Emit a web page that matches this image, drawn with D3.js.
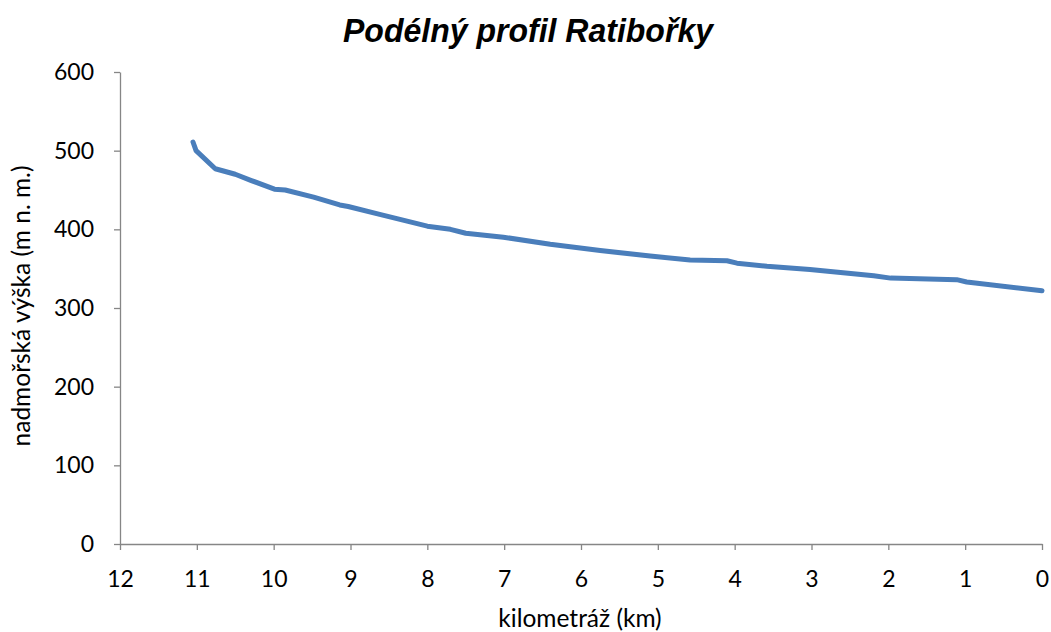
<!DOCTYPE html>
<html>
<head>
<meta charset="utf-8">
<script src="https://cdn.jsdelivr.net/npm/d3@7"></script>
<style>
  body { margin: 0; background: #fff; }
  text { font-family: Lato, "Open Sans", sans-serif; }
</style>
</head>
<body>
<svg width="1051" height="632"></svg>
<script>
// kilometráž (km) and nadmořská výška (m n. m.)
var km = [11.05, 11.01, 10.76, 10.50, 10.29, 9.99, 9.85, 9.48, 9.14, 9.03, 8.62, 8.00, 7.70, 7.50, 7.01, 6.40, 5.75, 5.10, 4.58, 4.10, 3.97, 3.58, 3.02, 2.19, 1.97, 1.11, 0.98, 0.00];
var vyska = [511, 500, 477, 470, 462, 451, 450, 441, 431, 429, 419, 404, 400, 395, 390, 381, 373, 366, 361, 360, 357, 353, 349, 341, 338, 336, 333, 322];
var xTicks = [12, 11, 10, 9, 8, 7, 6, 5, 4, 3, 2, 1, 0];
var yTicks = [0, 100, 200, 300, 400, 500, 600];

var svg = d3.select("svg"),
    margin = {top: 72, right: 9, bottom: 88, left: 120},
    width = +svg.attr("width") - margin.left - margin.right,
    height = +svg.attr("height") - margin.top - margin.bottom;

var x = d3.scaleLinear().domain([12, 0]).range([0, width]);
var y = d3.scaleLinear().domain([0, 600]).range([height, 0]);

var g = svg.append("g").attr("transform", "translate(" + margin.left + "," + margin.top + ")");

// axes
var xAxis = g.append("g")
    .attr("transform", "translate(0," + height + ")")
    .call(d3.axisBottom(x).tickValues(xTicks).tickSize(6).tickSizeOuter(0).tickFormat(d3.format("d")));
var yAxis = g.append("g")
    .call(d3.axisLeft(y).tickValues(yTicks).tickSize(6).tickSizeOuter(0));

[xAxis, yAxis].forEach(function(a) {
    a.selectAll("path, line").attr("stroke", "#868686").attr("stroke-width", 1.3);
    a.selectAll("text").attr("fill", "#000").style("font-size", "23px");
});
xAxis.selectAll("text").attr("y", 43).attr("dy", 0);
yAxis.selectAll("text").attr("x", -26);

// line
var line = d3.line()
    .x(function(d, i) { return x(km[i]); })
    .y(function(d) { return y(d); });

g.append("path")
    .datum(vyska)
    .attr("fill", "none")
    .attr("stroke", "#4a7ebb")
    .attr("stroke-width", 5)
    .attr("stroke-linejoin", "round")
    .attr("stroke-linecap", "round")
    .attr("d", line);

// title
svg.append("text")
    .attr("x", 528)
    .attr("y", 42)
    .attr("text-anchor", "middle")
    .attr("textLength", 370)
    .attr("lengthAdjust", "spacingAndGlyphs")
    .style("font-family", "'Liberation Sans', Arial, sans-serif")
    .style("font-size", "33px")
    .style("font-weight", "bold")
    .style("font-style", "italic")
    .text("Podélný profil Ratibořky");

// axis titles
svg.append("text")
    .attr("x", 580)
    .attr("y", 627)
    .attr("text-anchor", "middle")
    .style("font-size", "24.5px")
    .text("kilometráž (km)");

svg.append("text")
    .attr("transform", "translate(30,306) rotate(-90)")
    .attr("text-anchor", "middle")
    .style("font-size", "24.5px")
    .text("nadmořská výška (m n. m.)");
</script>
</body>
</html>
